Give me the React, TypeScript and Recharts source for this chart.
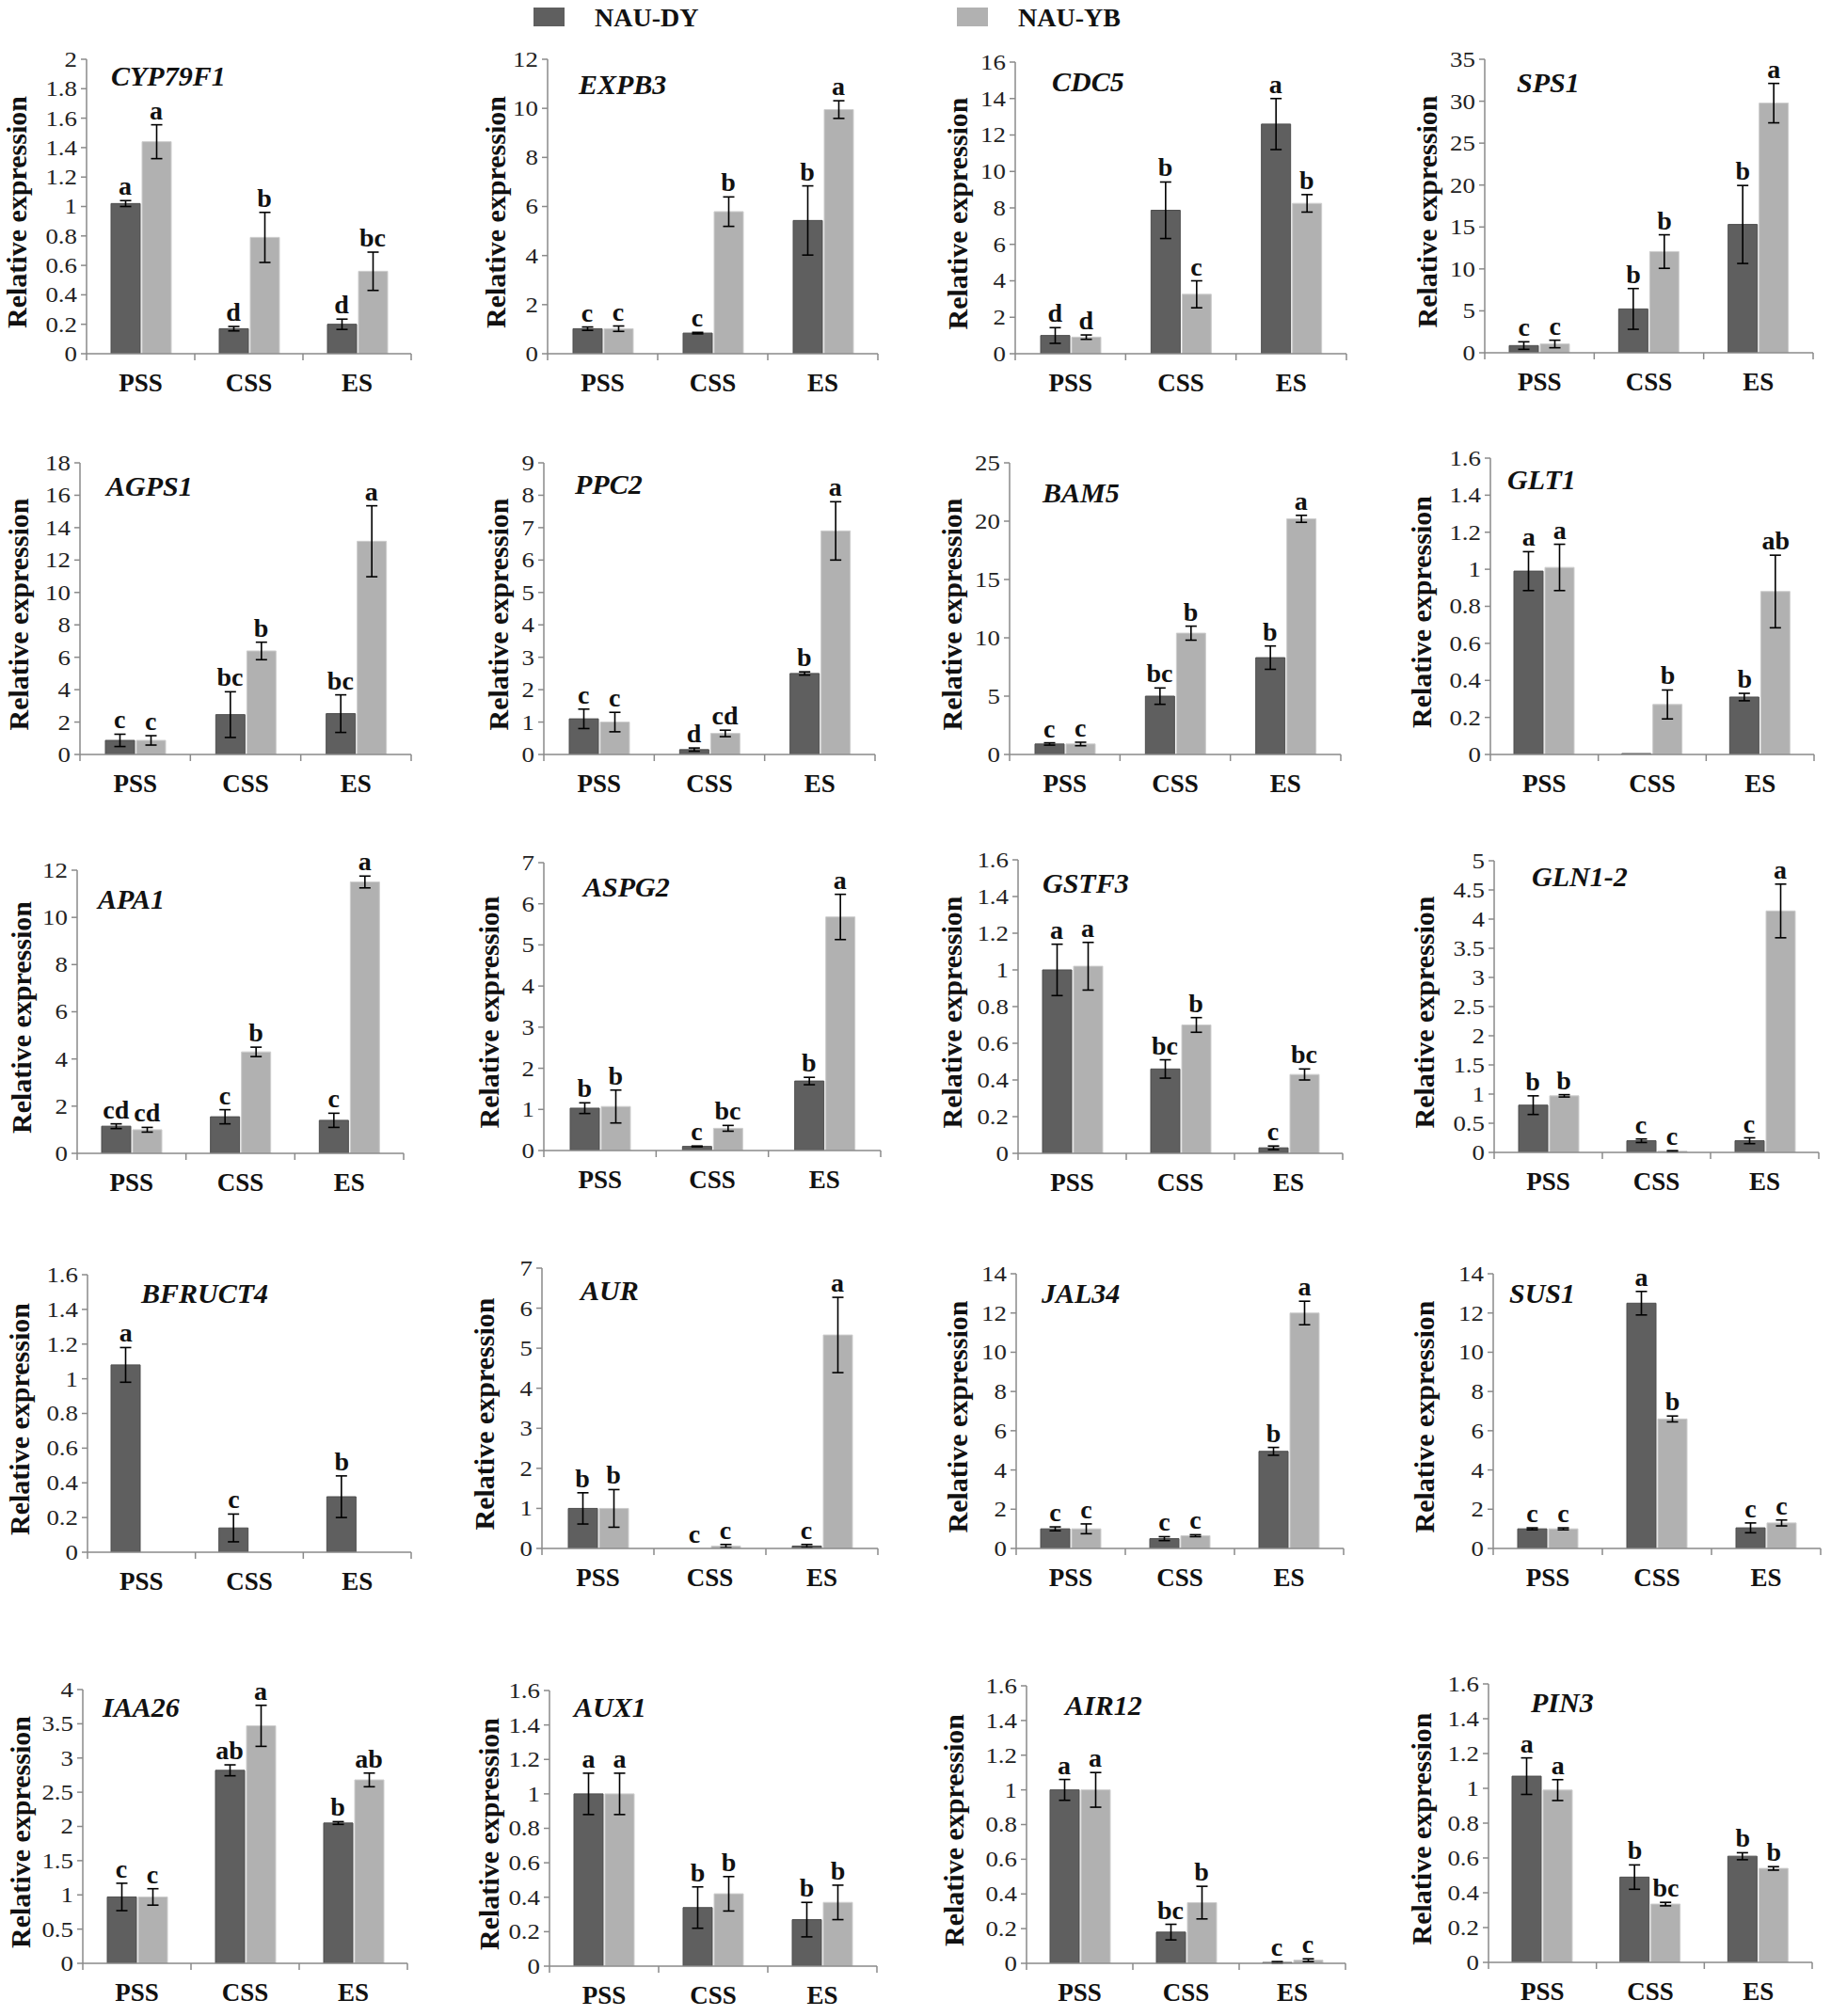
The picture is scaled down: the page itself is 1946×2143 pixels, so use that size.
import React from 'react'
import { ComposedChart, Bar, Line, XAxis, YAxis, ErrorBar, LabelList } from 'recharts'

// --- data ---
const STAGES = ['PSS', 'CSS', 'ES']
const SERIES = ['NAU-DY', 'NAU-YB']

const GENES = [
  'CYP79F1', 'EXPB3', 'CDC5', 'SPS1',
  'AGPS1', 'PPC2', 'BAM5', 'GLT1',
  'APA1', 'ASPG2', 'GSTF3', 'GLN1-2',
  'BFRUCT4', 'AUR', 'JAL34', 'SUS1',
  'IAA26', 'AUX1', 'AIR12', 'PIN3',
]

const Y_MAX = [2, 12, 16, 35, 18, 9, 25, 1.6, 12, 7, 1.6, 5, 1.6, 7, 14, 14, 4, 1.6, 1.6, 1.6]
const Y_STEP = [0.2, 2, 2, 5, 2, 1, 5, 0.2, 2, 1, 0.2, 0.5, 0.2, 1, 2, 2, 0.5, 0.2, 0.2, 0.2]

const DY_MEAN: (number | null)[][] = [
  [1.02, 0.17, 0.2], [1.02, 0.84, 5.43], [1.0, 7.87, 12.6], [0.86, 5.23, 15.3],
  [0.87, 2.46, 2.52], [1.1, 0.15, 2.5], [0.9, 5.0, 8.3], [0.99, 0.005, 0.31],
  [1.15, 1.55, 1.4], [1.03, 0.1, 1.69], [1.0, 0.46, 0.03], [0.81, 0.2, 0.2],
  [1.08, 0.14, 0.32], [1.0, 0, 0.06], [1.0, 0.5, 4.95], [1.0, 12.5, 1.05],
  [0.97, 2.82, 2.05], [1.0, 0.34, 0.27], [1.0, 0.18, 0.005], [1.07, 0.49, 0.61],
]
const DY_ERR: (number | null)[][] = [
  [0.02, 0.015, 0.035], [0.07, 0.03, 1.41], [0.43, 1.55, 1.4], [0.45, 2.43, 4.65],
  [0.38, 1.41, 1.16], [0.3, 0.05, 0.05], [0.1, 0.7, 1.0], [0.105, null, 0.02],
  [0.1, 0.3, 0.3], [0.13, 0.01, 0.09], [0.14, 0.05, 0.01], [0.16, 0.03, 0.05],
  [0.1, 0.08, 0.12], [0.39, null, 0.04], [0.1, 0.1, 0.2], [0.05, 0.6, 0.25],
  [0.2, 0.08, 0.02], [0.12, 0.12, 0.1], [0.06, 0.045, 0.005], [0.105, 0.07, 0.02],
]
const YB_MEAN: (number | null)[][] = [
  [1.44, 0.79, 0.56], [1.02, 5.79, 9.95], [0.91, 3.26, 8.25], [1.05, 12.07, 29.77],
  [0.87, 6.39, 13.16], [1.0, 0.65, 6.9], [0.9, 10.4, 20.2], [1.01, 0.27, 0.88],
  [1.0, 4.3, 11.5], [1.07, 0.54, 5.68], [1.02, 0.7, 0.43], [0.97, 0.02, 4.14],
  [null, null, null], [1.0, 0.06, 5.33], [1.0, 0.65, 12.0], [1.0, 6.6, 1.3],
  [0.97, 3.47, 2.68], [1.0, 0.42, 0.37], [1.0, 0.35, 0.018], [0.99, 0.335, 0.54],
]
const YB_ERR: (number | null)[][] = [
  [0.115, 0.17, 0.13], [0.11, 0.6, 0.36], [0.12, 0.74, 0.48], [0.45, 2.0, 2.35],
  [0.29, 0.54, 2.19], [0.3, 0.1, 0.9], [0.15, 0.6, 0.3], [0.125, 0.078, 0.196],
  [0.1, 0.2, 0.25], [0.4, 0.07, 0.55], [0.13, 0.04, 0.03], [0.02, 0.01, 0.46],
  [null, null, null], [0.47, 0.04, 0.94], [0.25, 0.05, 0.6], [0.05, 0.15, 0.15],
  [0.12, 0.3, 0.1], [0.12, 0.1, 0.1], [0.1, 0.094, 0.008], [0.06, 0.01, 0.01],
]
const DY_LETTERS = [
  ['a', 'd', 'd'], ['c', 'c', 'b'], ['d', 'b', 'a'], ['c', 'b', 'b'],
  ['c', 'bc', 'bc'], ['c', 'd', 'b'], ['c', 'bc', 'b'], ['a', '', 'b'],
  ['cd', 'c', 'c'], ['b', 'c', 'b'], ['a', 'bc', 'c'], ['b', 'c', 'c'],
  ['a', 'c', 'b'], ['b', 'c', 'c'], ['c', 'c', 'b'], ['c', 'a', 'c'],
  ['c', 'ab', 'b'], ['a', 'b', 'b'], ['a', 'bc', 'c'], ['a', 'b', 'b'],
]
const YB_LETTERS = [
  ['a', 'b', 'bc'], ['c', 'b', 'a'], ['d', 'c', 'b'], ['c', 'b', 'a'],
  ['c', 'b', 'a'], ['c', 'cd', 'a'], ['c', 'b', 'a'], ['a', 'b', 'ab'],
  ['cd', 'b', 'a'], ['b', 'bc', 'a'], ['a', 'b', 'bc'], ['b', 'c', 'a'],
  ['', '', ''], ['b', 'c', 'a'], ['c', 'c', 'a'], ['c', 'b', 'c'],
  ['c', 'a', 'ab'], ['a', 'b', 'b'], ['a', 'b', 'c'], ['a', 'bc', 'b'],
]

// --- layout (page px): y-axis x, top tick y, zero y, plot right, title centre x, gene name pos ---
const LAYOUT = [
  { axisX: 92, top: 63, zero: 376, right: 437, titleX: 18, nameX: 118, nameY: 91 },
  { axisX: 582, top: 63, zero: 376, right: 933, titleX: 527, nameX: 615, nameY: 100 },
  { axisX: 1079, top: 66, zero: 376, right: 1431, titleX: 1018, nameX: 1118, nameY: 97 },
  { axisX: 1578, top: 63, zero: 375, right: 1927, titleX: 1517, nameX: 1612, nameY: 98 },
  { axisX: 85, top: 492, zero: 802, right: 437, titleX: 20, nameX: 113, nameY: 527 },
  { axisX: 578, top: 492, zero: 802, right: 930, titleX: 530, nameX: 611, nameY: 525 },
  { axisX: 1073, top: 492, zero: 802, right: 1425, titleX: 1012, nameX: 1108, nameY: 534 },
  { axisX: 1584, top: 487, zero: 802, right: 1928, titleX: 1511, nameX: 1602, nameY: 520 },
  { axisX: 82, top: 925, zero: 1226, right: 429, titleX: 23, nameX: 104, nameY: 966 },
  { axisX: 578, top: 917, zero: 1223, right: 936, titleX: 520, nameX: 620, nameY: 953 },
  { axisX: 1082, top: 914, zero: 1226, right: 1427, titleX: 1012, nameX: 1108, nameY: 949 },
  { axisX: 1588, top: 915, zero: 1225, right: 1933, titleX: 1514, nameX: 1628, nameY: 942 },
  { axisX: 93, top: 1355, zero: 1650, right: 437, titleX: 21, nameX: 150, nameY: 1385 },
  { axisX: 576, top: 1348, zero: 1646, right: 933, titleX: 515, nameX: 617, nameY: 1382 },
  { axisX: 1080, top: 1354, zero: 1646, right: 1428, titleX: 1018, nameX: 1107, nameY: 1385 },
  { axisX: 1587, top: 1354, zero: 1646, right: 1935, titleX: 1514, nameX: 1604, nameY: 1385 },
  { axisX: 88, top: 1796, zero: 2087, right: 433, titleX: 22, nameX: 109, nameY: 1825 },
  { axisX: 584, top: 1797, zero: 2090, right: 932, titleX: 520, nameX: 610, nameY: 1825 },
  { axisX: 1091, top: 1792, zero: 2087, right: 1430, titleX: 1014, nameX: 1132, nameY: 1823 },
  { axisX: 1582, top: 1790, zero: 2086, right: 1926, titleX: 1511, nameX: 1627, nameY: 1820 },
]

const DARK = '#5f5f5f'
const LIGHT = '#b1b1b1'
const AXIS = '#8a8a8a'
const INK = '#111'
const SERIF = '"Liberation Serif", "Times New Roman", Times, serif'

const MT = 36
const XH = 56
const YW = 112
const MR = 12
const BAR = 31
const GAP = 2

function letterLabel(dx: number) {
  return (props: any) => {
    const value = props.value
    if (!value) return null
    const x = props.x ?? props.viewBox?.x
    const y = props.y ?? props.viewBox?.y
    if (x == null || y == null || isNaN(x) || isNaN(y)) return null
    return (
      <text x={x + dx} y={y - 6} textAnchor="middle" fontFamily={SERIF} fontWeight="bold" fontSize={28} fill={INK}>
        {value}
      </text>
    )
  }
}

function Panel({ i }: { i: number }) {
  const L = LAYOUT[i]
  const plotW = L.right - L.axisX
  const plotH = L.zero - L.top
  const band = plotW / 3
  const left = L.axisX - YW
  const W = YW + plotW + MR
  const H = MT + plotH + XH

  const data = STAGES.map((s, k) => {
    const dy = DY_MEAN[i][k]
    const yb = YB_MEAN[i][k]
    return {
      stage: s,
      dy,
      dyErr: DY_ERR[i][k],
      yb,
      ybErr: YB_ERR[i][k],
      dyTop: dy == null ? null : dy + (DY_ERR[i][k] ?? 0),
      ybTop: yb == null ? null : yb + (YB_ERR[i][k] ?? 0),
      dyLetter: DY_LETTERS[i][k],
      ybLetter: YB_LETTERS[i][k],
    }
  })

  const ticks: number[] = []
  const n = Math.round(Y_MAX[i] / Y_STEP[i])
  for (let t = 0; t <= n; t++) ticks.push(Math.round(t * Y_STEP[i] * 100) / 100)

  const yTick = ({ x, y, payload }: any) => (
    <text
      x={x}
      y={y}
      dy={8}
      textAnchor="end"
      fontFamily={SERIF}
      fontSize={24}
      fill="#222"
      transform={`translate(${x} ${y}) scale(1.12 1) translate(${-x} ${-y})`}
    >
      {String(payload.value)}
    </text>
  )

  const xTick = ({ x, y, payload, index }: any) => (
    <g>
      <line x1={x - band / 2} x2={x - band / 2} y1={y} y2={y + 7} stroke={AXIS} strokeWidth={1.5} />
      {index === STAGES.length - 1 && (
        <line x1={x + band / 2} x2={x + band / 2} y1={y} y2={y + 7} stroke={AXIS} strokeWidth={1.5} />
      )}
      <text x={x} y={y + 40} textAnchor="middle" fontFamily={SERIF} fontWeight="bold" fontSize={27} fill={INK}>
        {payload.value}
      </text>
    </g>
  )

  const title = () => {
    const cx = L.titleX - left
    const cy = MT + plotH / 2 + 6
    return (
      <text
        x={cx}
        y={cy}
        dy={10}
        transform={`rotate(-90 ${cx} ${cy})`}
        textAnchor="middle"
        fontFamily={SERIF}
        fontWeight="bold"
        fontSize={30}
        fill={INK}
      >
        Relative expression
      </text>
    )
  }

  return (
    <div style={{ position: 'absolute', left, top: L.top - MT }}>
      <ComposedChart width={W} height={H} data={data} margin={{ top: MT, right: MR, bottom: 0, left: 0 }} barGap={GAP}>
        <XAxis
          dataKey="stage"
          height={XH}
          interval={0}
          tickSize={0}
          tickMargin={0}
          tickLine={false}
          axisLine={{ stroke: AXIS, strokeWidth: 1.5 }}
          tick={xTick}
        />
        <YAxis
          width={YW}
          domain={[0, Y_MAX[i]]}
          ticks={ticks}
          allowDataOverflow
          interval={0}
          tickSize={6}
          tickMargin={4}
          tickLine={{ stroke: AXIS, strokeWidth: 1.5 }}
          axisLine={{ stroke: AXIS, strokeWidth: 1.5 }}
          tick={yTick}
          label={{ content: title }}
        />
        <Bar dataKey="dy" name={SERIES[0]} barSize={BAR} fill={DARK} stroke="#4e4e4e" strokeWidth={1} isAnimationActive={false}>
          <ErrorBar dataKey="dyErr" width={6} stroke="#000" strokeWidth={1.6} direction="y" />
        </Bar>
        <Bar dataKey="yb" name={SERIES[1]} barSize={BAR} fill={LIGHT} stroke="#cdcdcd" strokeWidth={1} isAnimationActive={false}>
          <ErrorBar dataKey="ybErr" width={6} stroke="#000" strokeWidth={1.6} direction="y" />
        </Bar>
        <Line dataKey="dyTop" stroke="none" dot={false} activeDot={false} legendType="none" isAnimationActive={false}>
          <LabelList dataKey="dyLetter" content={letterLabel(-(BAR + GAP) / 2)} />
        </Line>
        <Line dataKey="ybTop" stroke="none" dot={false} activeDot={false} legendType="none" isAnimationActive={false}>
          <LabelList dataKey="ybLetter" content={letterLabel((BAR + GAP) / 2)} />
        </Line>
      </ComposedChart>
    </div>
  )
}

export default function App() {
  return (
    <div style={{ position: 'absolute', left: 0, top: 0, width: 1946, height: 2143, background: '#fff', overflow: 'hidden' }}>
      {GENES.map((g, i) => (
        <Panel key={g} i={i} />
      ))}
      <svg
        width={1946}
        height={2143}
        style={{ position: 'absolute', left: 0, top: 0, pointerEvents: 'none' }}
      >
        {/* legend */}
        <rect x={567} y={8} width={33} height={20} fill={DARK} />
        <text x={632} y={28} fontFamily={SERIF} fontWeight="bold" fontSize={28} fill={INK}>
          {SERIES[0]}
        </text>
        <rect x={1017} y={8} width={33} height={20} fill={LIGHT} />
        <text x={1082} y={28} fontFamily={SERIF} fontWeight="bold" fontSize={28} fill={INK}>
          {SERIES[1]}
        </text>
        {/* gene names */}
        {GENES.map((g, i) => (
          <text
            key={g}
            x={LAYOUT[i].nameX}
            y={LAYOUT[i].nameY}
            fontFamily={SERIF}
            fontWeight="bold"
            fontStyle="italic"
            fontSize={30}
            fill={INK}
          >
            {g}
          </text>
        ))}
      </svg>
    </div>
  )
}
